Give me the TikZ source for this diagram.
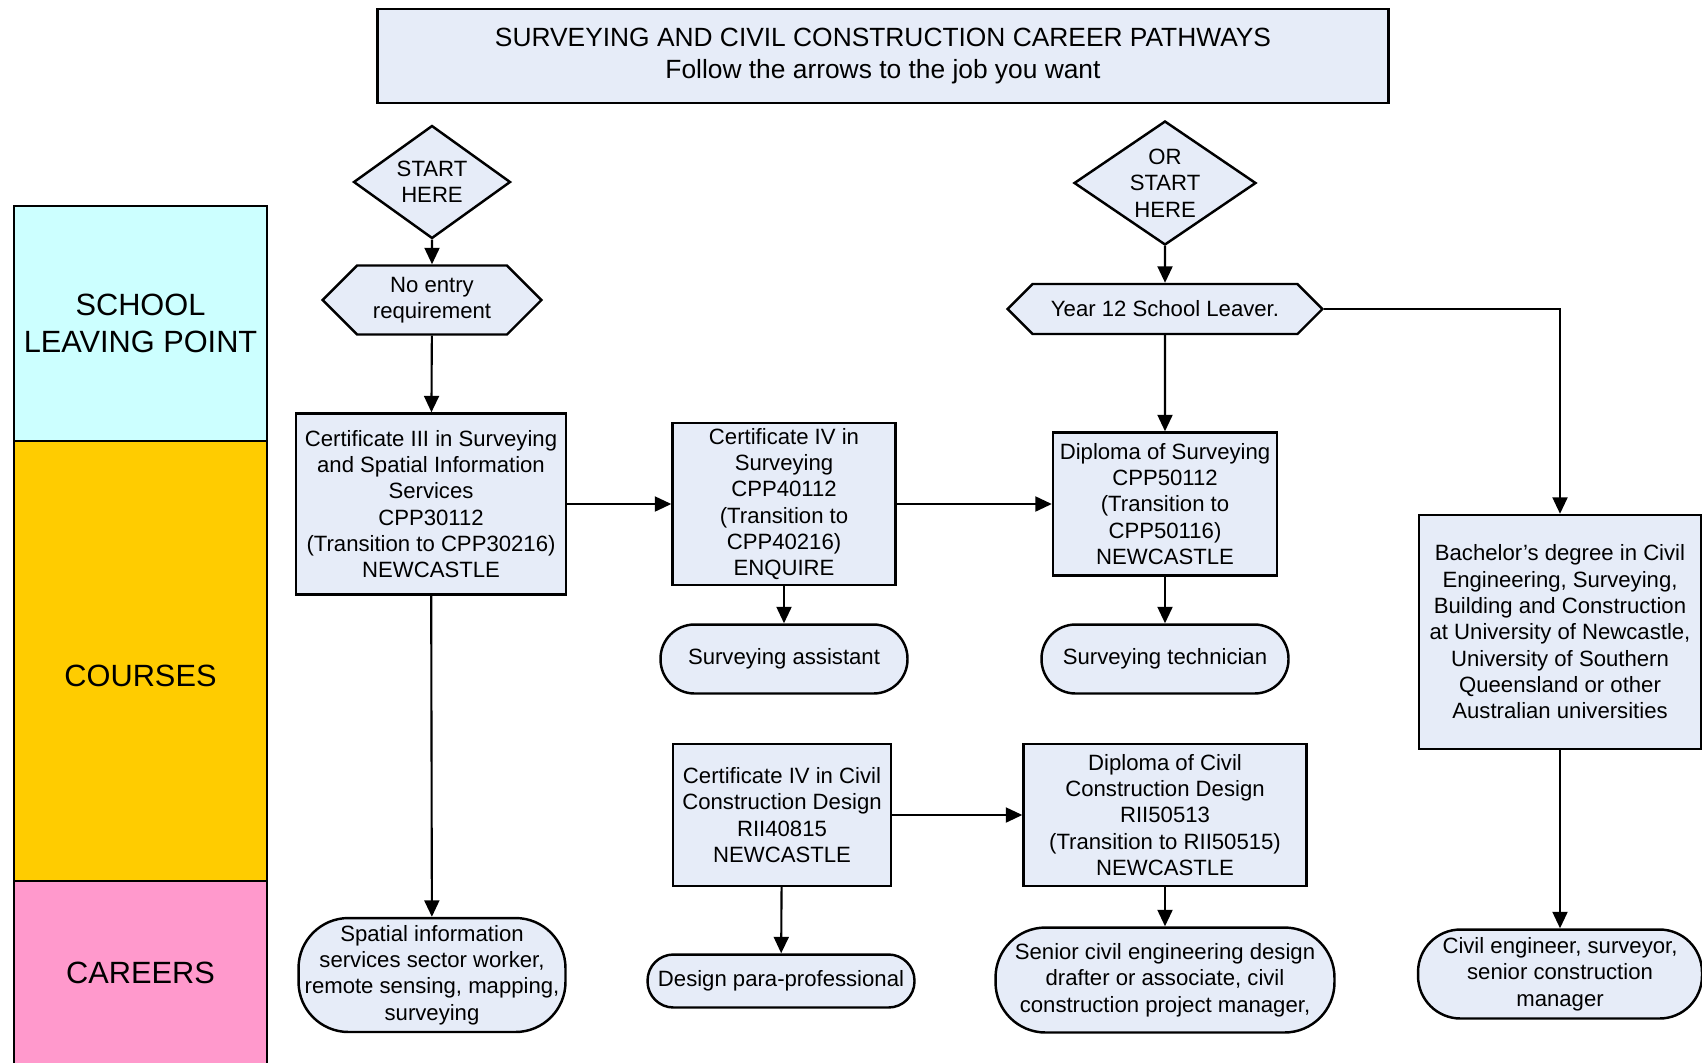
\documentclass[tikz,border=0pt]{standalone}
\usepackage{fontspec}
\setmainfont{Liberation Sans}
\usetikzlibrary{shapes.geometric,shapes.symbols,arrows.meta}
\definecolor{boxfill}{RGB}{230,236,248}
\definecolor{schoolcol}{RGB}{204,255,255}
\definecolor{coursecol}{RGB}{255,204,0}
\definecolor{careercol}{RGB}{255,153,204}

\begin{document}
\begin{tikzpicture}
  [x=0.02cm,y=-0.02cm]
      \tikzstyle{box_style} = [draw=black, line width=1.4pt, fill=boxfill, align=center, inner sep=1pt, font=\fontsize{12.6}{15}\selectfont]
      \tikzstyle{course_style} = [box_style, rectangle]
      \tikzstyle{job_style} = [box_style, rectangle, rounded corners=0.5cm]
      \tikzstyle{start_style} = [box_style, diamond, inner sep=0pt]
      \tikzstyle{entry_style} = [box_style, signal, signal to=west and east, signal pointer angle=90]
      \tikzstyle{lane_style} = [draw=black, line width=1.4pt, align=center, font=\fontsize{17.5}{21}\selectfont, minimum width=5.06cm]
      \tikzstyle{edge_style} = [draw=black, line width=1.2pt, -{Triangle[length=0.33cm,width=0.3cm]}]
  \useasboundingbox (0,0) rectangle (1702,1062);
  % lanes on the left
  \node[lane_style, fill=schoolcol, minimum height=4.7cm] (l0) at (140.5,323.5) {SCHOOL\\LEAVING POINT};
  \node[lane_style, fill=coursecol, minimum height=8.8cm, text height=29pt] (l1) at (140.5,661) {COURSES};
  \node[lane_style, fill=careercol, minimum height=3.66cm] (l2) at (140.5,972.5) {CAREERS};
  % title
  \node[box_style, font=\fontsize{15}{18.5}\selectfont, minimum width=20.22cm, minimum height=1.88cm] (t0) at (883,56)
    {SURVEYING AND CIVIL CONSTRUCTION CAREER PATHWAYS\\Follow the arrows to the job you want};
  % start points
  \node[start_style, aspect=1.39, minimum width=3.14cm, minimum height=2.26cm] (n0) at (432,182) {START\\HERE};
  \node[entry_style, minimum width=4.38cm, minimum height=1.38cm] (n1) at (432,300) {No entry\\requirement};
  \node[start_style, aspect=1.47, minimum width=3.64cm, minimum height=2.48cm] (n5) at (1165,183) {OR\\START\\HERE};
  \node[entry_style, minimum width=6.3cm, minimum height=1cm] (n6) at (1165,309) {Year 12 School Leaver.};
  % courses
  \node[course_style, minimum width=5.4cm, minimum height=3.62cm] (n2) at (431,504)
    {Certificate III in Surveying\\and Spatial Information\\Services\\CPP30112\\(Transition to CPP30216)\\NEWCASTLE};
  \node[course_style, minimum width=4.46cm, minimum height=3.24cm] (n3) at (784,504)
    {Certificate IV in\\Surveying\\CPP40112\\(Transition to\\CPP40216)\\ENQUIRE};
  \node[course_style, minimum width=4.48cm, minimum height=2.86cm] (n4) at (1165,504)
    {Diploma of Surveying\\CPP50112\\(Transition to\\CPP50116)\\NEWCASTLE};
  \node[course_style, minimum width=5.64cm, minimum height=4.68cm] (n7) at (1560,632)
    {Bachelor's degree in Civil\\Engineering, Surveying,\\Building and Construction\\at University of Newcastle,\\University of Southern\\Queensland or other\\Australian universities};
  \node[course_style, minimum width=4.36cm, minimum height=2.84cm] (n10) at (782,815)
    {Certificate IV in Civil\\Construction Design\\RII40815\\NEWCASTLE};
  \node[course_style, minimum width=5.66cm, minimum height=2.84cm] (n11) at (1165,815)
    {Diploma of Civil\\Construction Design\\RII50513\\(Transition to RII50515)\\NEWCASTLE};
  % careers
  \node[job_style, minimum width=4.94cm, minimum height=1.38cm, rounded corners=0.68cm] (n8) at (784,659) {Surveying assistant};
  \node[job_style, minimum width=4.94cm, minimum height=1.38cm, rounded corners=0.68cm] (n9) at (1165,659) {Surveying technician};
  \node[job_style, minimum width=5.34cm, minimum height=2.28cm, rounded corners=1cm] (n12) at (432,975)
    {Spatial information\\services sector worker,\\remote sensing, mapping,\\surveying};
  \node[job_style, minimum width=5.34cm, minimum height=1.06cm, rounded corners=0.52cm] (n13) at (781,981) {Design para-professional};
  \node[job_style, minimum width=6.78cm, minimum height=2.1cm, rounded corners=1cm] (n14) at (1165,980)
    {Senior civil engineering design\\drafter or associate, civil\\construction project manager,};
  \node[job_style, minimum width=5.68cm, minimum height=1.78cm, rounded corners=0.85cm] (n15) at (1560,974)
    {Civil engineer, surveyor,\\senior construction\\manager};
  % arrows
  \draw[edge_style] (n0) -- (n1);
  \draw[edge_style] (n1) -- (n2);
  \draw[edge_style] (n2) -- (n3);
  \draw[edge_style] (n3) -- (n4);
  \draw[edge_style] (n2) -- (n12);
  \draw[edge_style] (n3) -- (n8);
  \draw[edge_style] (n4) -- (n9);
  \draw[edge_style] (n5) -- (n6);
  \draw[edge_style] (n6) -- (n4);
  \draw[edge_style] (n6.east) -| (n7.north);
  \draw[edge_style] (n7) -- (n15);
  \draw[edge_style] (n10) -- (n11);
  \draw[edge_style] (n10) -- (n13);
  \draw[edge_style] (n11) -- (n14);
\end{tikzpicture}
\end{document}
